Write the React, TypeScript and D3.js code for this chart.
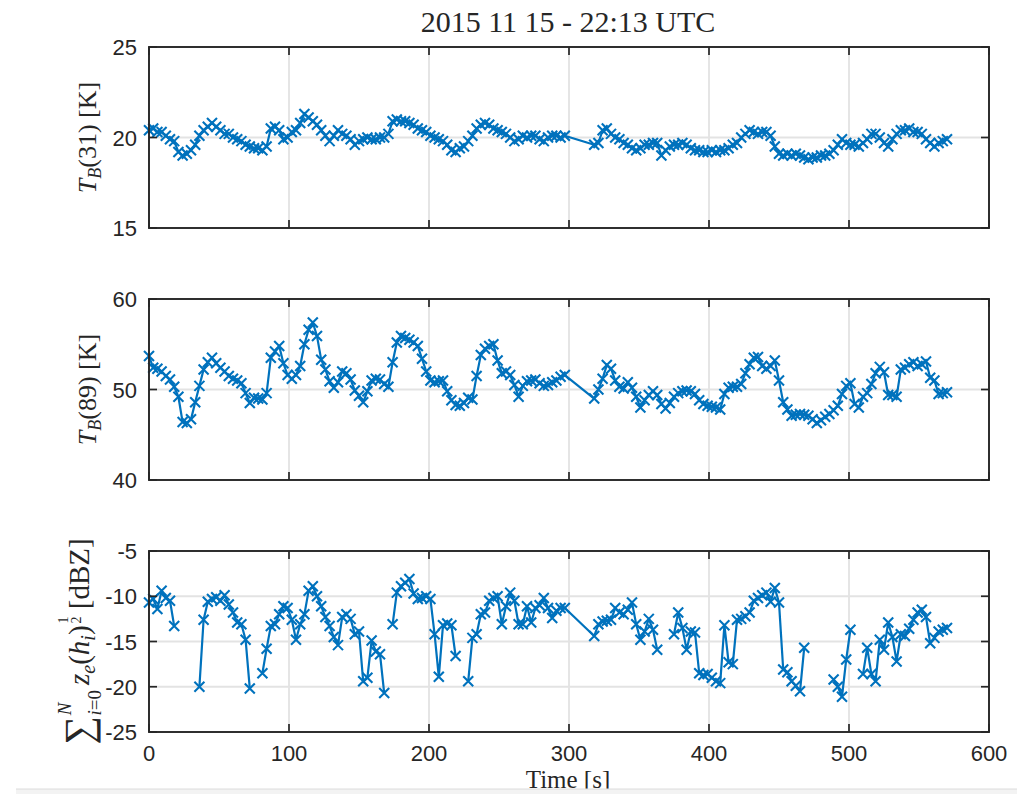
import React from "react";
import * as d3 from "d3";

// Sample times [s]; acquisition pauses between 297 s and 318 s
const timeS = [
  0, 3, 6, 9, 12, 15, 18, 21, 24, 27,
  30, 33, 36, 39, 42, 45, 48, 51, 54, 57,
  60, 63, 66, 69, 72, 75, 78, 81, 84, 87,
  90, 93, 96, 99, 102, 105, 108, 111, 114, 117,
  120, 123, 126, 129, 132, 135, 138, 141, 144, 147,
  150, 153, 156, 159, 162, 165, 168, 171, 174, 177,
  180, 183, 186, 189, 192, 195, 198, 201, 204, 207,
  210, 213, 216, 219, 222, 225, 228, 231, 234, 237,
  240, 243, 246, 249, 252, 255, 258, 261, 264, 267,
  270, 273, 276, 279, 282, 285, 288, 291, 294, 297,
  318, 321, 324, 327, 330, 333, 336, 339, 342, 345,
  348, 351, 354, 357, 360, 363, 366, 369, 372, 375,
  378, 381, 384, 387, 390, 393, 396, 399, 402, 405,
  408, 411, 414, 417, 420, 423, 426, 429, 432, 435,
  438, 441, 444, 447, 450, 453, 456, 459, 462, 465,
  468, 471, 474, 477, 480, 483, 486, 489, 492, 495,
  498, 501, 504, 507, 510, 513, 516, 519, 522, 525,
  528, 531, 534, 537, 540, 543, 546, 549, 552, 555,
  558, 561, 564, 567, 570,
];

// Brightness temperature, 31 GHz channel [K]
const tb31 = [
  20.4, 20.5, 20.3, 20.3, 20.1, 19.9, 19.8, 19.2, 19.0, 19.1,
  19.3, 19.6, 20.1, 20.4, 20.6, 20.8, 20.6, 20.4, 20.2, 20.2,
  20.0, 19.9, 19.8, 19.6, 19.5, 19.4, 19.4, 19.3, 19.5, 20.5,
  20.6, 20.4, 19.9, 20.0, 20.3, 20.4, 20.8, 21.3, 21.1, 20.9,
  20.7, 20.4, 20.1, 19.8, 20.1, 20.4, 20.2, 20.1, 19.9, 19.6,
  19.8, 19.9, 20.0, 19.9, 19.9, 20.0, 20.0, 20.2, 20.9, 21.0,
  20.9, 20.9, 20.8, 20.7, 20.5, 20.4, 20.3, 20.1, 20.0, 19.9,
  19.8, 19.6, 19.3, 19.2, 19.4, 19.5, 19.8, 20.1, 20.5, 20.7,
  20.8, 20.7, 20.5, 20.4, 20.3, 20.2, 20.0, 19.8, 19.9, 20.1,
  20.0, 20.1, 20.1, 19.9, 19.8, 20.0, 20.1, 20.1, 20.0, 20.1,
  19.6, 19.7, 20.4, 20.5, 20.2, 20.0, 19.9, 19.7, 19.6, 19.4,
  19.3, 19.4, 19.6, 19.6, 19.7, 19.7, 19.0, 19.3, 19.5, 19.6,
  19.6, 19.7, 19.6, 19.4, 19.3, 19.3, 19.2, 19.2, 19.3, 19.2,
  19.3, 19.3, 19.4, 19.6, 19.7, 20.0, 20.2, 20.4, 20.3, 20.2,
  20.3, 20.3, 20.1, 19.5, 19.1, 19.0, 19.1, 19.0, 19.1, 19.0,
  18.9, 18.8, 18.9, 18.9, 19.0, 19.0, 19.1, 19.3, 19.6, 19.9,
  19.7, 19.6, 19.6, 19.5, 19.7, 19.9, 20.2, 20.2, 20.0, 19.7,
  19.5, 19.9, 20.2, 20.4, 20.4, 20.5, 20.3, 20.3, 20.2, 19.9,
  19.7, 19.5, 19.7, 19.8, 19.9,
];

// Brightness temperature, 89 GHz channel [K]
const tb89 = [
  53.7, 52.4, 52.3, 52.0, 51.5, 51.1, 50.3, 49.2, 46.4, 46.3,
  46.7, 48.6, 50.4, 52.2, 53.0, 53.5, 52.9, 52.4, 52.0, 51.5,
  51.2, 51.0, 50.7, 49.6, 48.5, 49.1, 49.0, 48.9, 49.6, 53.5,
  54.2, 54.8, 52.9, 51.6, 51.2, 51.6, 52.6, 55.0, 56.6, 57.4,
  55.9, 53.3, 52.2, 50.9, 50.2, 50.8, 52.0, 51.8, 51.1, 49.9,
  49.3, 48.6, 49.8, 51.0, 51.2, 51.1, 50.6, 50.3, 53.0, 55.2,
  55.9, 55.7, 55.5, 55.2, 54.8, 53.4, 52.0, 51.0, 50.8, 50.9,
  51.0, 49.8, 48.8, 48.3, 48.2, 48.5, 49.1, 48.9, 51.5, 53.8,
  54.5, 54.8, 55.0, 53.2, 51.8, 52.0, 51.6, 50.5, 49.2, 50.4,
  50.9, 51.0, 51.1, 50.7, 50.4, 50.5, 50.8, 51.0, 51.4, 51.6,
  49.0, 50.0, 51.2, 52.7, 52.3, 51.0, 50.3, 50.1, 50.8, 50.2,
  49.2, 48.0, 48.8, 49.4, 49.8, 49.4, 48.4, 47.9, 48.5, 49.2,
  49.6, 49.8, 49.9, 49.8, 49.5, 48.8, 48.4, 48.2, 48.1, 48.0,
  47.8, 49.5, 50.2, 50.3, 50.3, 50.6, 51.8, 52.8, 53.5, 53.6,
  52.6, 52.3, 52.6, 53.2, 51.0, 48.6, 47.8, 47.1, 47.2, 47.3,
  47.2, 47.1, 46.7, 46.3, 46.6, 47.0, 47.3, 47.7, 48.2, 49.5,
  50.4, 50.7, 48.4, 48.0, 49.2, 49.6, 50.6, 51.8, 52.5, 51.9,
  49.4, 49.4, 49.2, 52.2, 52.4, 52.8, 53.0, 52.6, 52.8, 53.1,
  51.3, 51.0, 49.5, 49.6, 49.7,
];

// Column-summed reflectivity [dBZ]; null where no echo was recorded
const zSum: (number | null)[] = [
  -10.7, -10.3, -11.4, -9.4, -10.2, -10.5, -13.3, null, null, null,
  null, null, -20.0, -12.6, -10.6, -10.3, -10.1, -10.5, -9.9, -10.9,
  -11.8, -12.9, -13.1, -14.8, -20.2, null, null, -18.5, -15.8, -13.3,
  -13.1, -12.0, -11.1, -11.3, -12.6, -14.8, -13.1, -12.0, -9.4, -8.9,
  -10.0, -11.1, -12.3, -13.3, -14.5, -15.4, -12.3, -12.0, -12.5, -14.2,
  -13.9, -19.4, -19.0, -14.9, -16.1, -16.4, -20.7, null, -13.1, -9.6,
  -8.9, -8.5, -8.1, -9.7, -10.3, -10.2, -10.0, -10.3, -14.2, -18.9,
  -13.2, -13.0, -13.2, -16.6, null, null, -19.4, -14.6, -14.2, -12.0,
  -11.8, -10.5, -10.2, -10.0, -13.1, -11.1, -9.6, -10.5, -13.1, -13.1,
  -11.1, -12.9, -11.3, -11.0, -10.2, -11.3, -12.4, -11.6, -11.3, -11.3,
  -14.4, -13.1, -12.8, -12.7, -12.6, -11.3, -11.8, -12.0, -11.5, -10.7,
  -13.1, -14.8, -13.9, -12.5, -13.7, -15.9, null, null, null, -14.2,
  -11.8, -13.5, -15.9, -13.9, -14.0, -18.5, -18.7, -18.6, -19.0, -19.4,
  -19.6, -13.2, -17.3, -17.5, -12.6, -12.5, -12.2, -11.8, -10.5, -10.2,
  -9.9, -9.6, -10.6, -9.1, -10.7, -18.1, -18.4, -19.4, -19.9, -20.5,
  -15.7, null, null, null, null, null, null, -19.2, -20.0, -21.1,
  -17.0, -13.7, null, null, -18.6, -15.7, -18.6, -19.4, -14.8, -15.9,
  -12.9, -14.5, -17.2, -14.2, -14.4, -13.6, -12.6, -11.8, -11.5, -12.3,
  -15.2, -14.6, -13.9, -13.7, -13.5,
];

const xTicks = [0, 100, 200, 300, 400, 500, 600];
const ticks31 = [15, 20, 25];
const ticks89 = [40, 50, 60];
const ticksZ = [-25, -20, -15, -10, -5];

const titleText = "2015 11 15 - 22:13 UTC";
const xLabelText = "Time [s]";

const W = 1017;
const H = 794;
const LEFT = 149;
const RIGHT = 989;
const PANEL_H = 181;
const BLUE = "#0072BD";
const AXIS = "#262626";
const GRID = "#e3e3e3";
const SANS = "'Liberation Sans', Arial, Helvetica, sans-serif";
const SERIF = "'Liberation Serif', 'Times New Roman', serif";
const TICK_FONT = 22;

type PanelSpec = {
  top: number;
  values: (number | null)[];
  domain: [number, number];
  ticks: number[];
  label: React.ReactNode;
};

const x = d3.scaleLinear().domain([0, 600]).range([LEFT, RIGHT]);

function Panel({ spec }: { spec: PanelSpec }) {
  const y = d3
    .scaleLinear()
    .domain(spec.domain)
    .range([spec.top + PANEL_H, spec.top]);
  const pts = timeS.map((t, i) => ({ t, v: spec.values[i] }));
  const line = d3
    .line<{ t: number; v: number | null }>()
    .defined((d) => d.v !== null && d.v !== undefined)
    .x((d) => x(d.t))
    .y((d) => y(d.v as number));
  const top = spec.top;
  const bottom = spec.top + PANEL_H;
  const tickLen = 8;
  const m = 5;
  return (
    <g>
      {/* grid */}
      {xTicks.map((t) => (
        <line key={"gx" + t} x1={x(t)} x2={x(t)} y1={top} y2={bottom} stroke={GRID} strokeWidth={1.8} />
      ))}
      {spec.ticks.map((t) => (
        <line key={"gy" + t} x1={LEFT} x2={RIGHT} y1={y(t)} y2={y(t)} stroke={GRID} strokeWidth={1.8} />
      ))}
      {/* series */}
      <path d={line(pts) || ""} fill="none" stroke={BLUE} strokeWidth={2.2} strokeLinejoin="round" />
      {pts
        .filter((d) => d.v !== null && d.v !== undefined)
        .map((d, i) => (
          <path
            key={"m" + i}
            transform={`translate(${x(d.t)},${y(d.v as number)})`}
            d={`M${-m},${-m}L${m},${m}M${-m},${m}L${m},${-m}`}
            stroke={BLUE}
            strokeWidth={2.1}
            fill="none"
          />
        ))}
      {/* box and ticks */}
      <rect x={LEFT} y={top} width={RIGHT - LEFT} height={PANEL_H} fill="none" stroke={AXIS} strokeWidth={1.9} />
      {xTicks.map((t) => (
        <g key={"tx" + t}>
          <line x1={x(t)} x2={x(t)} y1={bottom} y2={bottom - tickLen} stroke={AXIS} strokeWidth={1.7} />
          <line x1={x(t)} x2={x(t)} y1={top} y2={top + tickLen} stroke={AXIS} strokeWidth={1.7} />
        </g>
      ))}
      {spec.ticks.map((t) => (
        <g key={"ty" + t}>
          <line x1={LEFT} x2={LEFT + tickLen} y1={y(t)} y2={y(t)} stroke={AXIS} strokeWidth={1.7} />
          <line x1={RIGHT} x2={RIGHT - tickLen} y1={y(t)} y2={y(t)} stroke={AXIS} strokeWidth={1.7} />
          <text
            x={LEFT - 12}
            y={y(t) + 8}
            textAnchor="end"
            fontFamily={SANS}
            fontSize={TICK_FONT}
            fill={AXIS}
          >
            {t}
          </text>
        </g>
      ))}
      {spec.label}
    </g>
  );
}

function TbLabel({ cy, channel }: { cy: number; channel: string }) {
  return (
    <text
      transform={`translate(96,${cy}) rotate(-90)`}
      textAnchor="middle"
      fontFamily={SERIF}
      fontSize={26}
      fill={AXIS}
    >
      <tspan fontStyle="italic">T</tspan>
      <tspan fontStyle="italic" fontSize={18} dy={5}>B</tspan>
      <tspan dy={-5}>{`(${channel})  [K]`}</tspan>
    </text>
  );
}

function ZLabel({ cy }: { cy: number }) {
  return (
    <text
      transform={`translate(89,${cy}) rotate(-90)`}
      textAnchor="middle"
      fontFamily={SERIF}
      fontSize={29}
      fill={AXIS}
    >
      <tspan fontSize={40} dy={3}>∑</tspan>
      <tspan fontSize={19} fontStyle="italic" dx={1} dy={-21}>N</tspan>
      <tspan fontSize={19} fontStyle="italic" dx={-13} dy={30}>i</tspan>
      <tspan fontSize={19}>=0</tspan>
      <tspan fontStyle="italic" dx={5} dy={-12}>z</tspan>
      <tspan fontSize={20} fontStyle="italic" dy={6}>e</tspan>
      <tspan dy={-6}>(</tspan>
      <tspan fontStyle="italic">h</tspan>
      <tspan fontSize={20} fontStyle="italic" dy={6}>i</tspan>
      <tspan dy={-6}>)</tspan>
      <tspan fontSize={14} dx={2} dy={-21}>1</tspan>
      <tspan fontSize={14} dx={-7} dy={13}>2</tspan>
      <tspan dy={8}>{"  [dBZ]"}</tspan>
    </text>
  );
}

export default function App() {
  const tops = [47, 299, 551];
  const panels: PanelSpec[] = [
    {
      top: tops[0],
      values: tb31,
      domain: [15, 25],
      ticks: ticks31,
      label: <TbLabel cy={tops[0] + PANEL_H / 2} channel="31" />,
    },
    {
      top: tops[1],
      values: tb89,
      domain: [40, 60],
      ticks: ticks89,
      label: <TbLabel cy={tops[1] + PANEL_H / 2} channel="89" />,
    },
    {
      top: tops[2],
      values: zSum,
      domain: [-25, -5],
      ticks: ticksZ,
      label: <ZLabel cy={tops[2] + PANEL_H / 2} />,
    },
  ];
  const lastBottom = tops[2] + PANEL_H;
  return (
    <svg
      width={W}
      height={H}
      viewBox={`0 0 ${W} ${H}`}
      style={{ position: "absolute", left: 0, top: 0, background: "#fff" }}
    >
      <rect x={0} y={0} width={W} height={H} fill="#fff" />
      <text x={(LEFT + RIGHT) / 2 - 1} y={32} textAnchor="middle" fontFamily={SERIF} fontSize={30} fill={AXIS}>
        {titleText}
      </text>
      {panels.map((p, i) => (
        <Panel key={i} spec={p} />
      ))}
      {xTicks.map((t) => (
        <text
          key={"xl" + t}
          x={x(t)}
          y={lastBottom + 29}
          textAnchor="middle"
          fontFamily={SANS}
          fontSize={TICK_FONT}
          fill={AXIS}
        >
          {t}
        </text>
      ))}
      <text x={(LEFT + RIGHT) / 2 - 1} y={788} textAnchor="middle" fontFamily={SERIF} fontSize={25} fill={AXIS}>
        {xLabelText}
      </text>
      {/* strip along the bottom edge of the page */}
      <rect x={16} y={789} width={W - 16} height={H - 789} fill="#f3f3f3" />
      <line x1={16} x2={W} y1={789} y2={789} stroke="#dcdcdc" strokeWidth={1} />
    </svg>
  );
}
